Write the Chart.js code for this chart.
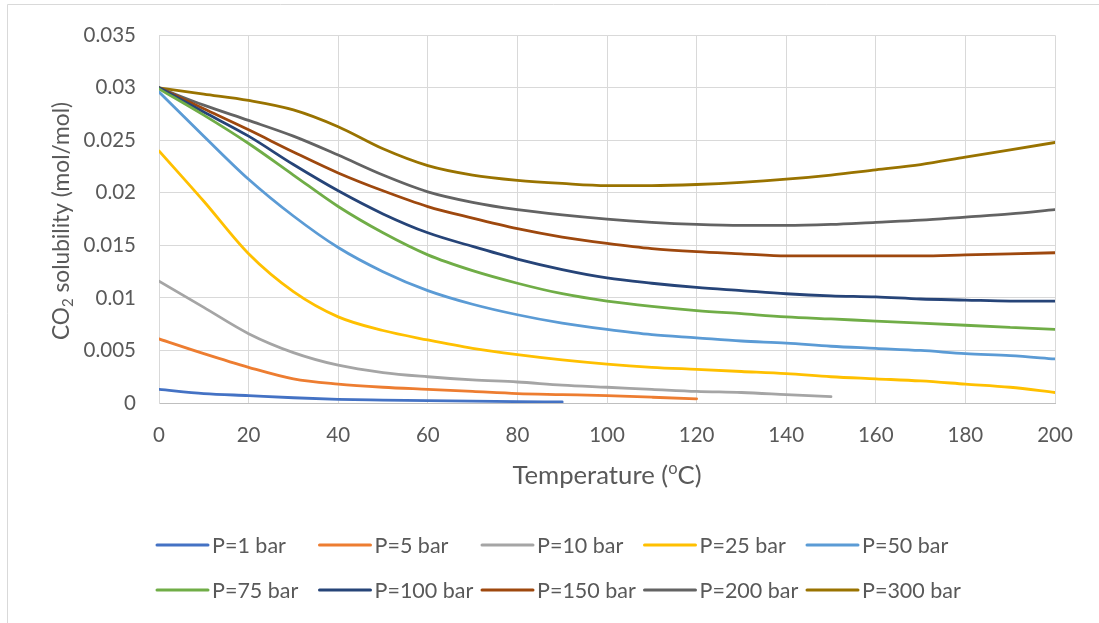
<!DOCTYPE html>
<html>
<head>
<meta charset="utf-8">
<script src="https://cdn.jsdelivr.net/npm/chart.js@4"></script>
<style>
  html, body { margin: 0; padding: 0; background: #ffffff; }
  #wrap { position: relative; width: 1099px; height: 623px; }
</style>
</head>
<body>
<div id="wrap"><canvas id="c" width="1099" height="623"></canvas></div>
<script>
// ---- data ----
const temps = [0, 10, 20, 30, 40, 50, 60, 70, 80, 90, 100, 110, 120, 130, 140, 150, 160, 170, 180, 190, 200];
const seriesLabels = ['P=1 bar', 'P=5 bar', 'P=10 bar', 'P=25 bar', 'P=50 bar', 'P=75 bar', 'P=100 bar', 'P=150 bar', 'P=200 bar', 'P=300 bar'];
const p1   = [0.0013, 0.0009, 0.0007, 0.0005, 0.00035, 0.00028, 0.00022, 0.00017, 0.00013, 0.0001];
const p5   = [0.0061, 0.0047, 0.0034, 0.0023, 0.0018, 0.0015, 0.0013, 0.0011, 0.0009, 0.0008, 0.0007, 0.00055, 0.0004];
const p10  = [0.0116, 0.0091, 0.0066, 0.0048, 0.0036, 0.0029, 0.0025, 0.0022, 0.0020, 0.0017, 0.0015, 0.0013, 0.0011, 0.0010, 0.0008, 0.0006];
const p25  = [0.0240, 0.0192, 0.0142, 0.0106, 0.0082, 0.0069, 0.0060, 0.0052, 0.0046, 0.0041, 0.0037, 0.0034, 0.0032, 0.0030, 0.0028, 0.0025, 0.0023, 0.0021, 0.0018, 0.0015, 0.0010];
const p50  = [0.0296, 0.0254, 0.0213, 0.0178, 0.0148, 0.0125, 0.0107, 0.0094, 0.0084, 0.0076, 0.0070, 0.0065, 0.0062, 0.0059, 0.0057, 0.0054, 0.0052, 0.0050, 0.0047, 0.0045, 0.0042];
const p75  = [0.0299, 0.0274, 0.0247, 0.0217, 0.0187, 0.0162, 0.0141, 0.0126, 0.0114, 0.0104, 0.0097, 0.0092, 0.0088, 0.0085, 0.0082, 0.0080, 0.0078, 0.0076, 0.0074, 0.0072, 0.0070];
const p100 = [0.0300, 0.0277, 0.0254, 0.0227, 0.0202, 0.0180, 0.0162, 0.0149, 0.0137, 0.0127, 0.0119, 0.0114, 0.0110, 0.0107, 0.0104, 0.0102, 0.0101, 0.0099, 0.0098, 0.0097, 0.0097];
const p150 = [0.0300, 0.0280, 0.0260, 0.0239, 0.0219, 0.0202, 0.0187, 0.0176, 0.0166, 0.0158, 0.0152, 0.0147, 0.0144, 0.0142, 0.0140, 0.0140, 0.0140, 0.0140, 0.0141, 0.0142, 0.0143];
const p200 = [0.0300, 0.02835, 0.0269, 0.0254, 0.0236, 0.0217, 0.0201, 0.0191, 0.0184, 0.0179, 0.0175, 0.0172, 0.0170, 0.0169, 0.0169, 0.0170, 0.0172, 0.0174, 0.0177, 0.0180, 0.0184];
const p300 = [0.0300, 0.0294, 0.0288, 0.0279, 0.0263, 0.0242, 0.0226, 0.0217, 0.0212, 0.0209, 0.0207, 0.0207, 0.0208, 0.0210, 0.0213, 0.0217, 0.0222, 0.0227, 0.0234, 0.0241, 0.0248];
const xTickLabels = ['0', '20', '40', '60', '80', '100', '120', '140', '160', '180', '200'];
const yTickLabels = ['0', '0.005', '0.01', '0.015', '0.02', '0.025', '0.03', '0.035'];

// ---- styling ----
const seriesValues = [p1, p5, p10, p25, p50, p75, p100, p150, p200, p300];
const colors = ['#4472C4', '#ED7D31', '#A5A5A5', '#FFC000', '#5B9BD5', '#70AD47', '#264478', '#9E480E', '#636363', '#997300'];
const FONT = 'Lato, "Open Sans", sans-serif';
const TEXT = '#595959';

const datasets = seriesValues.map((vals, i) => ({
  label: seriesLabels[i],
  data: vals.map((v, j) => ({ x: temps[j], y: v })),
  borderColor: colors[i],
  backgroundColor: colors[i],
  borderWidth: 2.8,
  pointRadius: 0,
  cubicInterpolationMode: 'monotone',
  fill: false,
  borderCapStyle: 'round'
}));

const decorPlugin = {
  id: 'decor',
  beforeDraw(chart) {
    const ctx = chart.ctx;
    ctx.save();
    ctx.fillStyle = '#ffffff';
    ctx.fillRect(0, 0, chart.width, chart.height);
    ctx.strokeStyle = '#d9d9d9';
    ctx.lineWidth = 1;
    ctx.beginPath();
    ctx.moveTo(7.5, chart.height);
    ctx.lineTo(7.5, 4.5);
    ctx.lineTo(chart.width, 4.5);
    ctx.stroke();
    ctx.restore();
  },
  afterDraw(chart) {
    const ctx = chart.ctx;
    const a = chart.chartArea;
    ctx.save();
    ctx.fillStyle = TEXT;
    // x axis title with superscript o
    const bigX = '25.7px ' + FONT, smallX = '16.5px ' + FONT;
    const t1 = 'Temperature (', t3 = 'C)';
    ctx.font = bigX; const w1 = ctx.measureText(t1).width; const w3 = ctx.measureText(t3).width;
    ctx.font = smallX; const w2 = ctx.measureText('o').width;
    const total = w1 + w2 + w3;
    let x = (a.left + a.right) / 2 - total / 2;
    const yb = 484;
    ctx.textBaseline = 'alphabetic';
    ctx.textAlign = 'left';
    ctx.font = bigX; ctx.fillText(t1, x, yb); x += w1;
    ctx.font = smallX; ctx.fillText('o', x, yb - 10); x += w2;
    ctx.font = bigX; ctx.fillText(t3, x, yb);

    // y axis title with subscript 2 (rotated)
    const bigY = '22.7px ' + FONT, smallY = '15px ' + FONT;
    ctx.translate(69, 221);
    ctx.rotate(-Math.PI / 2);
    const s1 = 'CO', s3 = ' solubility (mol/mol)';
    ctx.font = bigY; const v1 = ctx.measureText(s1).width; const v3 = ctx.measureText(s3).width;
    ctx.font = smallY; const v2 = ctx.measureText('2').width;
    let xx = -(v1 + v2 + v3) / 2;
    ctx.font = bigY; ctx.fillText(s1, xx, 0); xx += v1;
    ctx.font = smallY; ctx.fillText('2', xx, 4); xx += v2;
    ctx.font = bigY; ctx.fillText(s3, xx, 0);
    ctx.restore();

    // legend: two rows of five fixed-width columns
    ctx.save();
    ctx.font = '21.5px ' + FONT;
    ctx.fillStyle = TEXT;
    ctx.textBaseline = 'middle';
    ctx.textAlign = 'left';
    const colX = [156, 318.5, 481, 643.5, 806];
    const rowY = [545, 590];
    chart.data.datasets.forEach((ds, i) => {
      const cx = colX[i % 5], cy = rowY[Math.floor(i / 5)];
      ctx.strokeStyle = ds.borderColor;
      ctx.lineWidth = 3;
      ctx.lineCap = 'round';
      ctx.beginPath();
      ctx.moveTo(cx + 1, cy);
      ctx.lineTo(cx + 52, cy);
      ctx.stroke();
      ctx.fillText(ds.label, cx + 56, cy + 1);
    });
    ctx.restore();
  }
};

new Chart(document.getElementById('c'), {
  type: 'line',
  data: { datasets },
  plugins: [decorPlugin],
  options: {
    responsive: false,
    animation: false,
    layout: { padding: { left: 0, right: 44, top: 33, bottom: 0 } },
    plugins: { legend: { display: false }, tooltip: { enabled: false } },
    scales: {
      x: {
        type: 'linear',
        min: 0, max: 200,
        afterFit(s) { s.height = 220; },
        afterBuildTicks(s) { s.ticks = xTickLabels.map(t => ({ value: Number(t) })); },
        ticks: {
          callback: (v, i) => xTickLabels[i],
          color: TEXT,
          font: { family: FONT, size: 20.5 },
          padding: 20,
          maxRotation: 0,
          autoSkip: false
        },
        grid: { color: '#d9d9d9', lineWidth: 1, drawTicks: false },
        border: { color: '#bfbfbf', width: 1 }
      },
      y: {
        min: 0, max: 0.035,
        afterFit(s) { s.width = 159; },
        afterBuildTicks(s) { s.ticks = yTickLabels.map(t => ({ value: Number(t) })); },
        ticks: {
          callback: (v, i) => yTickLabels[i],
          color: TEXT,
          font: { family: FONT, size: 20.5 },
          padding: 23,
          autoSkip: false
        },
        grid: { color: '#d9d9d9', lineWidth: 1, drawTicks: false },
        border: { color: '#d9d9d9', width: 1 }
      }
    }
  }
});
</script>
</body>
</html>
